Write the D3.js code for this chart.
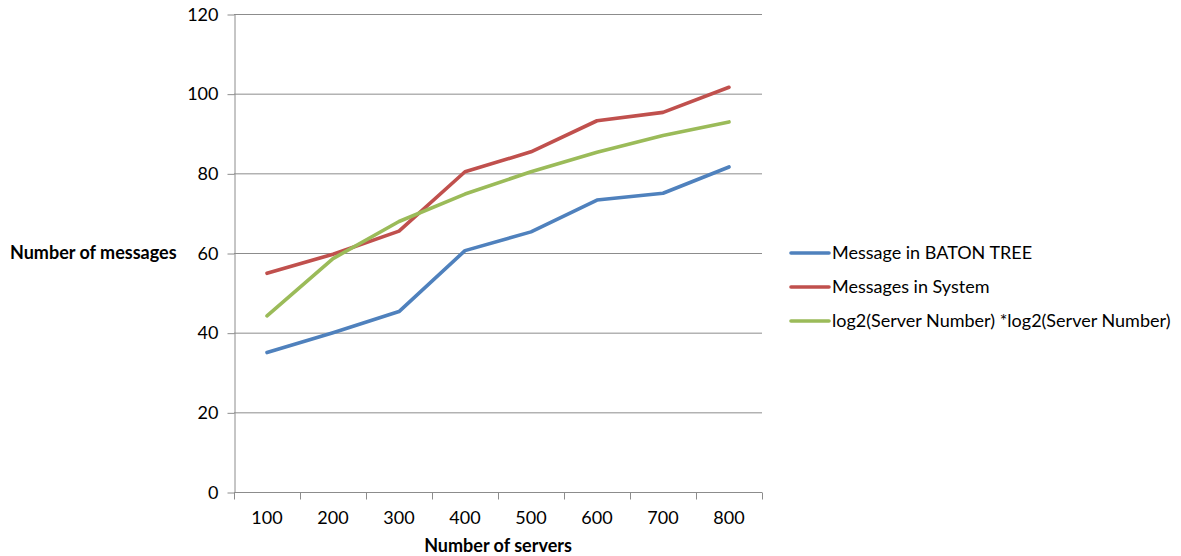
<!DOCTYPE html>
<html>
<head>
<meta charset="utf-8">
<script src="https://cdn.jsdelivr.net/npm/d3@7/dist/d3.min.js"></script>
<style>
  html, body { margin: 0; padding: 0; background: #fff; }
  svg { display: block; }
  text { font-family: Lato, "Open Sans", sans-serif; fill: #000; }
</style>
</head>
<body>
<svg id="chart" width="1181" height="556"></svg>
<script>
// Server counts on the x axis
const servers = ["100", "200", "300", "400", "500", "600", "700", "800"];
// Messages per series
const batonTree = [35, 40, 45.3, 60.6, 65.3, 73.3, 75.0, 81.6];
const system    = [54.9, 59.7, 65.5, 80.4, 85.4, 93.2, 95.3, 101.6];
const log2sq    = [44.2, 58.6, 67.9, 74.8, 80.4, 85.3, 89.5, 92.9];
const yTicks = [0, 20, 40, 60, 80, 100, 120];

const seriesNames = ["Message in BATON TREE", "Messages in System", "log2(Server Number) *log2(Server Number)"];
const seriesColors = ["#4F81BD", "#C0504D", "#9BBB59"];
const seriesValues = [batonTree, system, log2sq];

const FS = 18;
const svg = d3.select("#chart");
const plot = { left: 234, right: 762, top: 14, bottom: 492 };

const x = d3.scaleBand().domain(servers).range([plot.left, plot.right]);
const y = d3.scaleLinear().domain([0, 120]).range([plot.bottom, plot.top]);

// horizontal gridlines
svg.append("g")
  .selectAll("line")
  .data(yTicks.filter(d => d > 0))
  .join("line")
  .attr("x1", plot.left).attr("x2", plot.right)
  .attr("y1", d => y(d) + 0.5).attr("y2", d => y(d) + 0.5)
  .attr("stroke", "#8c8c8c").attr("stroke-width", 1);

// y axis
const yAxis = svg.append("g")
  .attr("transform", `translate(${plot.left + 0.5},0.5)`)
  .call(d3.axisLeft(y).tickValues(yTicks).tickSize(7).tickPadding(9).tickSizeOuter(0));
yAxis.select(".domain").attr("stroke", "#8c8c8c");
yAxis.selectAll(".tick line").attr("stroke", "#8c8c8c");
yAxis.selectAll("text").attr("font-size", FS).attr("font-family", "Lato, sans-serif").attr("fill", "#000");

// x axis with ticks on category boundaries
const xAxisG = svg.append("g").attr("transform", `translate(0,${plot.bottom + 0.5})`);
xAxisG.append("line")
  .attr("x1", plot.left).attr("x2", plot.right)
  .attr("stroke", "#8c8c8c");
const bounds = servers.map(s => x(s)).concat([plot.right]);
xAxisG.selectAll("line.tk")
  .data(bounds)
  .join("line").attr("class", "tk")
  .attr("x1", d => Math.round(d) + 0.5).attr("x2", d => Math.round(d) + 0.5)
  .attr("y1", 0).attr("y2", 7)
  .attr("stroke", "#8c8c8c");
xAxisG.selectAll("text")
  .data(servers)
  .join("text")
  .attr("x", d => x(d) + x.bandwidth() / 2)
  .attr("y", 31)
  .attr("text-anchor", "middle")
  .attr("font-size", FS)
  .text(d => d);

// axis titles
svg.append("text")
  .attr("x", (plot.left + plot.right) / 2).attr("y", 552)
  .attr("text-anchor", "middle")
  .attr("font-size", FS).attr("font-weight", "bold")
  .text("Number of servers");
svg.append("text")
  .attr("x", 10).attr("y", 259)
  .attr("font-size", FS).attr("font-weight", "bold")
  .text("Number of messages");

// series lines
const line = d3.line()
  .x((d, i) => x(servers[i]) + x.bandwidth() / 2)
  .y(d => y(d));
seriesValues.forEach((vals, k) => {
  svg.append("path")
    .datum(vals)
    .attr("d", line)
    .attr("fill", "none")
    .attr("stroke", seriesColors[k])
    .attr("stroke-width", 3.6)
    .attr("stroke-linejoin", "round")
    .attr("stroke-linecap", "round");
});

// legend
const legend = svg.append("g");
seriesNames.forEach((name, k) => {
  const ly = 253 + k * 34;
  legend.append("line")
    .attr("x1", 791).attr("x2", 829)
    .attr("y1", ly).attr("y2", ly)
    .attr("stroke", seriesColors[k]).attr("stroke-width", 3.6)
    .attr("stroke-linecap", "round");
  legend.append("text")
    .attr("x", 832).attr("y", ly + 6)
    .attr("font-size", FS)
    .text(name);
});
</script>
</body>
</html>
